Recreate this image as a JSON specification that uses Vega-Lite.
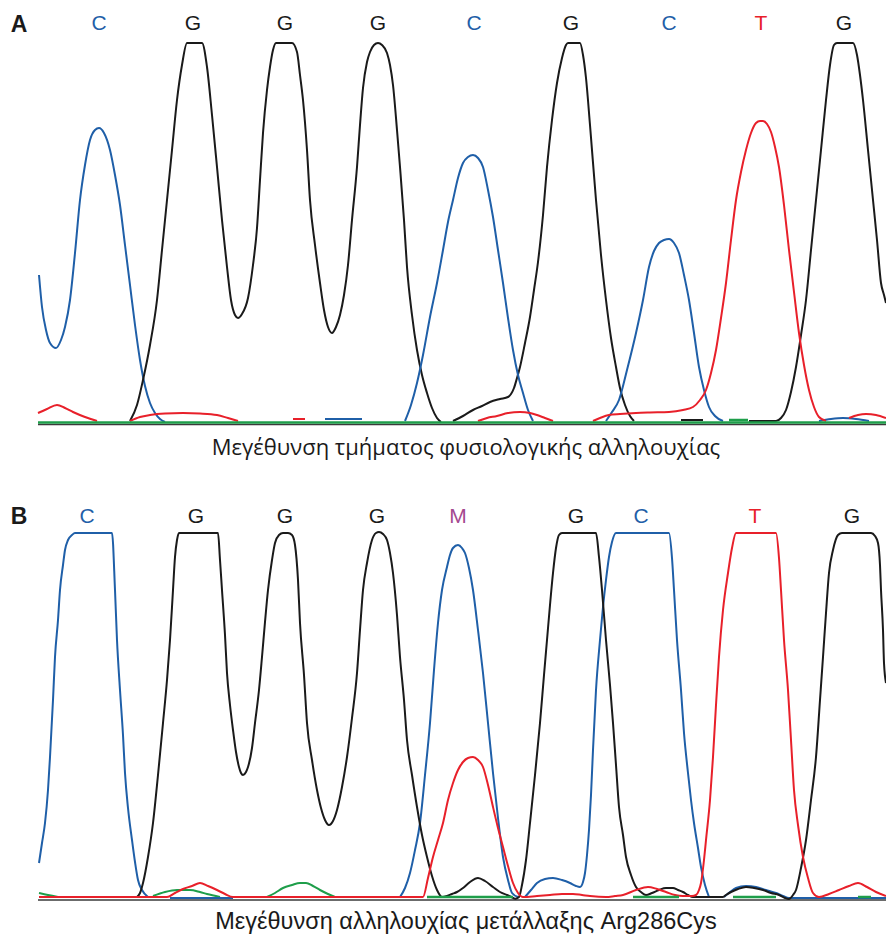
{
"$schema": "https://vega.github.io/schema/vega-lite/v6.json",
"padding": 0,
"spacing": 0,
"background": "white",
"config": {"view": {"stroke": null}, "concat": {"spacing": 0}},
"datasets": {
"baseA": [{"s":"n","x":38,"v":-1.5},{"s":"n","x":886,"v":-1.5}],
"topA": [{"s":"g","x":38,"v":0.5},{"s":"g","x":886,"v":0.5},{"s":"gd","x":729,"v":3},{"s":"gd","x":748,"v":3}],
"traceA": [
{"s":"a1","b":"C","x":39,"v":148},{"s":"a1","b":"C","x":42,"v":116},{"s":"a1","b":"C","x":46,"v":93},{"s":"a1","b":"C","x":50,"v":80},{"s":"a1","b":"C","x":56,"v":75},{"s":"a1","b":"C","x":61,"v":83},{"s":"a1","b":"C","x":65,"v":96},{"s":"a1","b":"C","x":70,"v":123},{"s":"a1","b":"C","x":75,"v":170},{"s":"a1","b":"C","x":80,"v":223},{"s":"a1","b":"C","x":85,"v":258},{"s":"a1","b":"C","x":90,"v":283},{"s":"a1","b":"C","x":95,"v":293},{"s":"a1","b":"C","x":99,"v":295},{"s":"a1","b":"C","x":104,"v":290},{"s":"a1","b":"C","x":110,"v":273},{"s":"a1","b":"C","x":115,"v":248},{"s":"a1","b":"C","x":120,"v":218},{"s":"a1","b":"C","x":125,"v":178},{"s":"a1","b":"C","x":130,"v":138},{"s":"a1","b":"C","x":135,"v":98},{"s":"a1","b":"C","x":140,"v":63},{"s":"a1","b":"C","x":145,"v":37},{"s":"a1","b":"C","x":150,"v":20},{"s":"a1","b":"C","x":155,"v":10},{"s":"a1","b":"C","x":160,"v":4},{"s":"a1","b":"C","x":165,"v":1},
{"s":"ga","b":"G","x":130,"v":2},{"s":"ga","b":"G","x":137,"v":18},{"s":"ga","b":"G","x":143,"v":43},{"s":"ga","b":"G","x":150,"v":78},{"s":"ga","b":"G","x":157,"v":123},{"s":"ga","b":"G","x":162,"v":173},{"s":"ga","b":"G","x":167,"v":223},{"s":"ga","b":"G","x":172,"v":273},{"s":"ga","b":"G","x":177,"v":323},{"s":"ga","b":"G","x":182,"v":358},{"s":"ga","b":"G","x":187,"v":380},{"s":"ga","b":"G","x":202,"v":380},{"s":"ga","b":"G","x":207,"v":356},{"s":"ga","b":"G","x":212,"v":308},{"s":"ga","b":"G","x":217,"v":256},{"s":"ga","b":"G","x":222,"v":203},{"s":"ga","b":"G","x":227,"v":156},{"s":"ga","b":"G","x":231,"v":123},{"s":"ga","b":"G","x":235,"v":108},{"s":"ga","b":"G","x":238,"v":105},{"s":"ga","b":"G","x":242,"v":109},{"s":"ga","b":"G","x":248,"v":125},{"s":"ga","b":"G","x":253,"v":158},{"s":"ga","b":"G","x":257,"v":195},{"s":"ga","b":"G","x":260,"v":243},{"s":"ga","b":"G","x":263,"v":290},{"s":"ga","b":"G","x":267,"v":333},{"s":"ga","b":"G","x":270,"v":356},{"s":"ga","b":"G","x":273,"v":373},{"s":"ga","b":"G","x":276,"v":380},{"s":"ga","b":"G","x":292,"v":380},{"s":"ga","b":"G","x":297,"v":371},{"s":"ga","b":"G","x":300,"v":348},{"s":"ga","b":"G","x":303,"v":323},{"s":"ga","b":"G","x":307,"v":273},{"s":"ga","b":"G","x":310,"v":223},{"s":"ga","b":"G","x":315,"v":178},{"s":"ga","b":"G","x":320,"v":140},{"s":"ga","b":"G","x":324,"v":113},{"s":"ga","b":"G","x":328,"v":96},{"s":"ga","b":"G","x":332,"v":90},{"s":"ga","b":"G","x":336,"v":96},{"s":"ga","b":"G","x":340,"v":108},{"s":"ga","b":"G","x":344,"v":128},{"s":"ga","b":"G","x":348,"v":158},{"s":"ga","b":"G","x":352,"v":203},{"s":"ga","b":"G","x":357,"v":256},{"s":"ga","b":"G","x":360,"v":298},{"s":"ga","b":"G","x":363,"v":335},{"s":"ga","b":"G","x":367,"v":361},{"s":"ga","b":"G","x":370,"v":371},{"s":"ga","b":"G","x":374,"v":378},{"s":"ga","b":"G","x":378,"v":380},{"s":"ga","b":"G","x":382,"v":378},{"s":"ga","b":"G","x":387,"v":370},{"s":"ga","b":"G","x":390,"v":358},{"s":"ga","b":"G","x":393,"v":338},{"s":"ga","b":"G","x":397,"v":293},{"s":"ga","b":"G","x":400,"v":256},{"s":"ga","b":"G","x":404,"v":203},{"s":"ga","b":"G","x":407,"v":156},{"s":"ga","b":"G","x":412,"v":108},{"s":"ga","b":"G","x":417,"v":73},{"s":"ga","b":"G","x":422,"v":48},{"s":"ga","b":"G","x":427,"v":30},{"s":"ga","b":"G","x":432,"v":15},{"s":"ga","b":"G","x":437,"v":5},{"s":"ga","b":"G","x":441,"v":1},
{"s":"gb","b":"G","x":453,"v":2},{"s":"gb","b":"G","x":463,"v":7},{"s":"gb","b":"G","x":473,"v":13},{"s":"gb","b":"G","x":482,"v":17},{"s":"gb","b":"G","x":490,"v":21},{"s":"gb","b":"G","x":500,"v":24},{"s":"gb","b":"G","x":508,"v":26},{"s":"gb","b":"G","x":511,"v":29},{"s":"gb","b":"G","x":514,"v":35},{"s":"gb","b":"G","x":517,"v":45},{"s":"gb","b":"G","x":520,"v":56},{"s":"gb","b":"G","x":525,"v":80},{"s":"gb","b":"G","x":530,"v":106},{"s":"gb","b":"G","x":534,"v":133},{"s":"gb","b":"G","x":538,"v":161},{"s":"gb","b":"G","x":543,"v":208},{"s":"gb","b":"G","x":547,"v":256},{"s":"gb","b":"G","x":552,"v":303},{"s":"gb","b":"G","x":557,"v":340},{"s":"gb","b":"G","x":562,"v":365},{"s":"gb","b":"G","x":566,"v":378},{"s":"gb","b":"G","x":568,"v":380},{"s":"gb","b":"G","x":580,"v":380},{"s":"gb","b":"G","x":583,"v":368},{"s":"gb","b":"G","x":586,"v":345},{"s":"gb","b":"G","x":590,"v":298},{"s":"gb","b":"G","x":596,"v":223},{"s":"gb","b":"G","x":601,"v":168},{"s":"gb","b":"G","x":606,"v":123},{"s":"gb","b":"G","x":611,"v":85},{"s":"gb","b":"G","x":616,"v":56},{"s":"gb","b":"G","x":620,"v":35},{"s":"gb","b":"G","x":625,"v":18},{"s":"gb","b":"G","x":630,"v":7},{"s":"gb","b":"G","x":634,"v":2},
{"s":"gc","b":"G","x":681,"v":3},{"s":"gc","b":"G","x":703,"v":3},
{"s":"gd","b":"G","x":749,"v":2},{"s":"gd","b":"G","x":776,"v":2},{"s":"gd","b":"G","x":781,"v":5},{"s":"gd","b":"G","x":786,"v":13},{"s":"gd","b":"G","x":791,"v":31},{"s":"gd","b":"G","x":796,"v":56},{"s":"gd","b":"G","x":801,"v":88},{"s":"gd","b":"G","x":806,"v":123},{"s":"gd","b":"G","x":811,"v":173},{"s":"gd","b":"G","x":816,"v":223},{"s":"gd","b":"G","x":821,"v":273},{"s":"gd","b":"G","x":826,"v":323},{"s":"gd","b":"G","x":830,"v":358},{"s":"gd","b":"G","x":834,"v":378},{"s":"gd","b":"G","x":837,"v":380},{"s":"gd","b":"G","x":853,"v":380},{"s":"gd","b":"G","x":857,"v":368},{"s":"gd","b":"G","x":860,"v":348},{"s":"gd","b":"G","x":863,"v":323},{"s":"gd","b":"G","x":868,"v":273},{"s":"gd","b":"G","x":873,"v":223},{"s":"gd","b":"G","x":877,"v":183},{"s":"gd","b":"G","x":881,"v":140},{"s":"gd","b":"G","x":884,"v":128},{"s":"gd","b":"G","x":886,"v":120},
{"s":"cb","b":"C","x":405,"v":2},{"s":"cb","b":"C","x":411,"v":18},{"s":"cb","b":"C","x":417,"v":40},{"s":"cb","b":"C","x":423,"v":68},{"s":"cb","b":"C","x":430,"v":106},{"s":"cb","b":"C","x":437,"v":140},{"s":"cb","b":"C","x":443,"v":173},{"s":"cb","b":"C","x":448,"v":201},{"s":"cb","b":"C","x":453,"v":223},{"s":"cb","b":"C","x":458,"v":245},{"s":"cb","b":"C","x":463,"v":260},{"s":"cb","b":"C","x":468,"v":266},{"s":"cb","b":"C","x":473,"v":268},{"s":"cb","b":"C","x":478,"v":265},{"s":"cb","b":"C","x":483,"v":256},{"s":"cb","b":"C","x":488,"v":233},{"s":"cb","b":"C","x":493,"v":206},{"s":"cb","b":"C","x":498,"v":173},{"s":"cb","b":"C","x":503,"v":140},{"s":"cb","b":"C","x":508,"v":105},{"s":"cb","b":"C","x":513,"v":73},{"s":"cb","b":"C","x":518,"v":48},{"s":"cb","b":"C","x":523,"v":30},{"s":"cb","b":"C","x":528,"v":13},{"s":"cb","b":"C","x":533,"v":2},
{"s":"cc","b":"C","x":325,"v":4},{"s":"cc","b":"C","x":362,"v":4},
{"s":"cd","b":"C","x":606,"v":2},{"s":"cd","b":"C","x":612,"v":11},{"s":"cd","b":"C","x":619,"v":23},{"s":"cd","b":"C","x":627,"v":53},{"s":"cd","b":"C","x":636,"v":90},{"s":"cd","b":"C","x":643,"v":123},{"s":"cd","b":"C","x":649,"v":156},{"s":"cd","b":"C","x":654,"v":172},{"s":"cd","b":"C","x":659,"v":180},{"s":"cd","b":"C","x":664,"v":183},{"s":"cd","b":"C","x":669,"v":184},{"s":"cd","b":"C","x":674,"v":180},{"s":"cd","b":"C","x":679,"v":170},{"s":"cd","b":"C","x":684,"v":148},{"s":"cd","b":"C","x":689,"v":123},{"s":"cd","b":"C","x":694,"v":90},{"s":"cd","b":"C","x":699,"v":56},{"s":"cd","b":"C","x":704,"v":33},{"s":"cd","b":"C","x":709,"v":16},{"s":"cd","b":"C","x":715,"v":7},{"s":"cd","b":"C","x":723,"v":2},
{"s":"ce","b":"C","x":819,"v":2},{"s":"ce","b":"C","x":831,"v":4},{"s":"ce","b":"C","x":843,"v":5},{"s":"ce","b":"C","x":856,"v":4},{"s":"ce","b":"C","x":869,"v":2},
{"s":"ra","b":"T","x":38,"v":10},{"s":"ra","b":"T","x":47,"v":14},{"s":"ra","b":"T","x":57,"v":18},{"s":"ra","b":"T","x":65,"v":15},{"s":"ra","b":"T","x":73,"v":11},{"s":"ra","b":"T","x":85,"v":6},{"s":"ra","b":"T","x":97,"v":2},
{"s":"rb","b":"T","x":130,"v":2},{"s":"rb","b":"T","x":140,"v":6},{"s":"rb","b":"T","x":150,"v":8},{"s":"rb","b":"T","x":165,"v":9.5},{"s":"rb","b":"T","x":183,"v":10},{"s":"rb","b":"T","x":200,"v":9.5},{"s":"rb","b":"T","x":217,"v":8},{"s":"rb","b":"T","x":228,"v":5},{"s":"rb","b":"T","x":238,"v":2},
{"s":"rc","b":"T","x":293,"v":4},{"s":"rc","b":"T","x":305,"v":4},
{"s":"rd","b":"T","x":478,"v":2},{"s":"rd","b":"T","x":487,"v":5},{"s":"rd","b":"T","x":497,"v":7},{"s":"rd","b":"T","x":508,"v":10},{"s":"rd","b":"T","x":520,"v":11},{"s":"rd","b":"T","x":530,"v":10},{"s":"rd","b":"T","x":537,"v":8},{"s":"rd","b":"T","x":545,"v":5},{"s":"rd","b":"T","x":553,"v":2},
{"s":"re","b":"T","x":593,"v":2},{"s":"re","b":"T","x":600,"v":5},{"s":"re","b":"T","x":609,"v":8},{"s":"re","b":"T","x":620,"v":9},{"s":"re","b":"T","x":636,"v":10},{"s":"re","b":"T","x":650,"v":10.5},{"s":"re","b":"T","x":669,"v":11},{"s":"re","b":"T","x":683,"v":13},{"s":"re","b":"T","x":693,"v":16},{"s":"re","b":"T","x":700,"v":23},{"s":"re","b":"T","x":706,"v":33},{"s":"re","b":"T","x":711,"v":50},{"s":"re","b":"T","x":716,"v":73},{"s":"re","b":"T","x":721,"v":105},{"s":"re","b":"T","x":726,"v":140},{"s":"re","b":"T","x":731,"v":183},{"s":"re","b":"T","x":736,"v":223},{"s":"re","b":"T","x":741,"v":251},{"s":"re","b":"T","x":746,"v":273},{"s":"re","b":"T","x":751,"v":290},{"s":"re","b":"T","x":756,"v":300},{"s":"re","b":"T","x":760,"v":302},{"s":"re","b":"T","x":763,"v":302},{"s":"re","b":"T","x":767,"v":299},{"s":"re","b":"T","x":771,"v":291},{"s":"re","b":"T","x":775,"v":276},{"s":"re","b":"T","x":779,"v":256},{"s":"re","b":"T","x":784,"v":218},{"s":"re","b":"T","x":789,"v":173},{"s":"re","b":"T","x":794,"v":131},{"s":"re","b":"T","x":799,"v":90},{"s":"re","b":"T","x":804,"v":58},{"s":"re","b":"T","x":809,"v":33},{"s":"re","b":"T","x":814,"v":16},{"s":"re","b":"T","x":819,"v":6},{"s":"re","b":"T","x":826,"v":2},
{"s":"rf","b":"T","x":849,"v":5},{"s":"rf","b":"T","x":858,"v":8},{"s":"rf","b":"T","x":866,"v":9},{"s":"rf","b":"T","x":876,"v":8},{"s":"rf","b":"T","x":886,"v":5}
],
"labA": [{"b":"C","x":99,"v":399},{"b":"G","x":193,"v":399},{"b":"G","x":285,"v":399},{"b":"G","x":378,"v":399},{"b":"C","x":474,"v":399},{"b":"G","x":571,"v":399},{"b":"C","x":669,"v":399},{"b":"T","x":761,"v":399},{"b":"G","x":844,"v":399}],
"letA": [{"t":"A","x":19,"v":398}],
"capA": [{"t":"Μεγέθυνση τμήματος φυσιολογικής αλληλουχίας","x":466,"v":-25}],
"baseB": [{"s":"n","x":38,"v":-2},{"s":"n","x":886,"v":-2}],
"topB": [{"s":"d1","x":427,"v":1},{"s":"d1","x":513,"v":1},{"s":"d2","x":633,"v":1},{"s":"d2","x":679,"v":1},{"s":"d3","x":733,"v":1},{"s":"d3","x":776,"v":1},{"s":"d4","x":858,"v":1},{"s":"d4","x":871,"v":1}],
"traceB": [
{"s":"g1","b":"A","x":39,"v":5},{"s":"g1","b":"A","x":48,"v":3},{"s":"g1","b":"A","x":58,"v":1},
{"s":"g2","b":"A","x":153,"v":2},{"s":"g2","b":"A","x":165,"v":6},{"s":"g2","b":"A","x":177,"v":8},{"s":"g2","b":"A","x":190,"v":8},{"s":"g2","b":"A","x":200,"v":6},{"s":"g2","b":"A","x":207,"v":4},{"s":"g2","b":"A","x":220,"v":1},
{"s":"g3","b":"A","x":267,"v":1},{"s":"g3","b":"A","x":275,"v":5},{"s":"g3","b":"A","x":283,"v":10},{"s":"g3","b":"A","x":292,"v":13},{"s":"g3","b":"A","x":300,"v":15},{"s":"g3","b":"A","x":306,"v":15},{"s":"g3","b":"A","x":313,"v":12},{"s":"g3","b":"A","x":320,"v":8},{"s":"g3","b":"A","x":328,"v":4},{"s":"g3","b":"A","x":335,"v":1},
{"s":"b1","b":"C","x":39,"v":35},{"s":"b1","b":"C","x":42,"v":55},{"s":"b1","b":"C","x":45,"v":75},{"s":"b1","b":"C","x":48,"v":108},{"s":"b1","b":"C","x":50,"v":141},{"s":"b1","b":"C","x":53,"v":198},{"s":"b1","b":"C","x":55,"v":241},{"s":"b1","b":"C","x":58,"v":278},{"s":"b1","b":"C","x":60,"v":308},{"s":"b1","b":"C","x":63,"v":333},{"s":"b1","b":"C","x":65,"v":348},{"s":"b1","b":"C","x":68,"v":358},{"s":"b1","b":"C","x":72,"v":363},{"s":"b1","b":"C","x":75,"v":365},{"s":"b1","b":"C","x":112,"v":365},{"s":"b1","b":"C","x":115,"v":308},{"s":"b1","b":"C","x":117,"v":258},{"s":"b1","b":"C","x":120,"v":208},{"s":"b1","b":"C","x":123,"v":163},{"s":"b1","b":"C","x":125,"v":125},{"s":"b1","b":"C","x":128,"v":90},{"s":"b1","b":"C","x":132,"v":58},{"s":"b1","b":"C","x":135,"v":36},{"s":"b1","b":"C","x":138,"v":18},{"s":"b1","b":"C","x":142,"v":8},{"s":"b1","b":"C","x":148,"v":1},
{"s":"b2","b":"C","x":170,"v":0},{"s":"b2","b":"C","x":233,"v":0},
{"s":"bm","b":"C","x":400,"v":1},{"s":"bm","b":"C","x":405,"v":10},{"s":"bm","b":"C","x":410,"v":25},{"s":"bm","b":"C","x":415,"v":48},{"s":"bm","b":"C","x":420,"v":75},{"s":"bm","b":"C","x":425,"v":123},{"s":"bm","b":"C","x":430,"v":175},{"s":"bm","b":"C","x":434,"v":228},{"s":"bm","b":"C","x":438,"v":275},{"s":"bm","b":"C","x":442,"v":308},{"s":"bm","b":"C","x":447,"v":331},{"s":"bm","b":"C","x":450,"v":343},{"s":"bm","b":"C","x":453,"v":350},{"s":"bm","b":"C","x":458,"v":353},{"s":"bm","b":"C","x":462,"v":350},{"s":"bm","b":"C","x":465,"v":345},{"s":"bm","b":"C","x":469,"v":330},{"s":"bm","b":"C","x":473,"v":308},{"s":"bm","b":"C","x":478,"v":268},{"s":"bm","b":"C","x":483,"v":225},{"s":"bm","b":"C","x":488,"v":175},{"s":"bm","b":"C","x":493,"v":125},{"s":"bm","b":"C","x":498,"v":80},{"s":"bm","b":"C","x":503,"v":41},{"s":"bm","b":"C","x":508,"v":18},{"s":"bm","b":"C","x":512,"v":5},{"s":"bm","b":"C","x":518,"v":1},
{"s":"b3","b":"C","x":525,"v":1},{"s":"b3","b":"C","x":531,"v":8},{"s":"b3","b":"C","x":537,"v":15},{"s":"b3","b":"C","x":545,"v":19},{"s":"b3","b":"C","x":553,"v":20},{"s":"b3","b":"C","x":562,"v":18},{"s":"b3","b":"C","x":570,"v":15},{"s":"b3","b":"C","x":576,"v":12},{"s":"b3","b":"C","x":580,"v":11},{"s":"b3","b":"C","x":583,"v":16},{"s":"b3","b":"C","x":585,"v":25},{"s":"b3","b":"C","x":587,"v":43},{"s":"b3","b":"C","x":589,"v":68},{"s":"b3","b":"C","x":591,"v":103},{"s":"b3","b":"C","x":593,"v":148},{"s":"b3","b":"C","x":596,"v":208},{"s":"b3","b":"C","x":600,"v":258},{"s":"b3","b":"C","x":603,"v":291},{"s":"b3","b":"C","x":606,"v":318},{"s":"b3","b":"C","x":609,"v":341},{"s":"b3","b":"C","x":612,"v":356},{"s":"b3","b":"C","x":616,"v":365},{"s":"b3","b":"C","x":669,"v":365},{"s":"b3","b":"C","x":672,"v":340},{"s":"b3","b":"C","x":674,"v":308},{"s":"b3","b":"C","x":677,"v":258},{"s":"b3","b":"C","x":681,"v":208},{"s":"b3","b":"C","x":684,"v":165},{"s":"b3","b":"C","x":688,"v":125},{"s":"b3","b":"C","x":691,"v":98},{"s":"b3","b":"C","x":694,"v":75},{"s":"b3","b":"C","x":698,"v":50},{"s":"b3","b":"C","x":701,"v":31},{"s":"b3","b":"C","x":705,"v":13},{"s":"b3","b":"C","x":709,"v":1},
{"s":"b4","b":"C","x":724,"v":1},{"s":"b4","b":"C","x":730,"v":6},{"s":"b4","b":"C","x":736,"v":10},{"s":"b4","b":"C","x":746,"v":12},{"s":"b4","b":"C","x":756,"v":11},{"s":"b4","b":"C","x":766,"v":8},{"s":"b4","b":"C","x":776,"v":5},{"s":"b4","b":"C","x":783,"v":2},{"s":"b4","b":"C","x":789,"v":0},{"s":"b4","b":"C","x":886,"v":0},
{"s":"k1","b":"G","x":137,"v":1},{"s":"k1","b":"G","x":140,"v":5},{"s":"k1","b":"G","x":143,"v":15},{"s":"k1","b":"G","x":148,"v":41},{"s":"k1","b":"G","x":153,"v":75},{"s":"k1","b":"G","x":158,"v":123},{"s":"k1","b":"G","x":163,"v":175},{"s":"k1","b":"G","x":167,"v":218},{"s":"k1","b":"G","x":170,"v":258},{"s":"k1","b":"G","x":173,"v":308},{"s":"k1","b":"G","x":175,"v":341},{"s":"k1","b":"G","x":177,"v":358},{"s":"k1","b":"G","x":179,"v":365},{"s":"k1","b":"G","x":218,"v":365},{"s":"k1","b":"G","x":220,"v":338},{"s":"k1","b":"G","x":222,"v":308},{"s":"k1","b":"G","x":225,"v":263},{"s":"k1","b":"G","x":227,"v":225},{"s":"k1","b":"G","x":230,"v":193},{"s":"k1","b":"G","x":233,"v":168},{"s":"k1","b":"G","x":236,"v":146},{"s":"k1","b":"G","x":239,"v":131},{"s":"k1","b":"G","x":241,"v":125},{"s":"k1","b":"G","x":243,"v":123},{"s":"k1","b":"G","x":246,"v":126},{"s":"k1","b":"G","x":248,"v":131},{"s":"k1","b":"G","x":252,"v":150},{"s":"k1","b":"G","x":255,"v":175},{"s":"k1","b":"G","x":259,"v":208},{"s":"k1","b":"G","x":262,"v":241},{"s":"k1","b":"G","x":265,"v":276},{"s":"k1","b":"G","x":268,"v":308},{"s":"k1","b":"G","x":272,"v":338},{"s":"k1","b":"G","x":275,"v":355},{"s":"k1","b":"G","x":279,"v":363},{"s":"k1","b":"G","x":283,"v":365},{"s":"k1","b":"G","x":288,"v":365},{"s":"k1","b":"G","x":292,"v":363},{"s":"k1","b":"G","x":295,"v":353},{"s":"k1","b":"G","x":298,"v":318},{"s":"k1","b":"G","x":300,"v":275},{"s":"k1","b":"G","x":304,"v":223},{"s":"k1","b":"G","x":307,"v":175},{"s":"k1","b":"G","x":312,"v":138},{"s":"k1","b":"G","x":317,"v":108},{"s":"k1","b":"G","x":321,"v":90},{"s":"k1","b":"G","x":325,"v":78},{"s":"k1","b":"G","x":329,"v":73},{"s":"k1","b":"G","x":333,"v":77},{"s":"k1","b":"G","x":337,"v":88},{"s":"k1","b":"G","x":342,"v":111},{"s":"k1","b":"G","x":347,"v":141},{"s":"k1","b":"G","x":352,"v":180},{"s":"k1","b":"G","x":357,"v":225},{"s":"k1","b":"G","x":360,"v":268},{"s":"k1","b":"G","x":363,"v":308},{"s":"k1","b":"G","x":367,"v":335},{"s":"k1","b":"G","x":372,"v":358},{"s":"k1","b":"G","x":376,"v":365},{"s":"k1","b":"G","x":379,"v":366},{"s":"k1","b":"G","x":383,"v":364},{"s":"k1","b":"G","x":387,"v":358},{"s":"k1","b":"G","x":390,"v":345},{"s":"k1","b":"G","x":393,"v":325},{"s":"k1","b":"G","x":397,"v":283},{"s":"k1","b":"G","x":400,"v":241},{"s":"k1","b":"G","x":404,"v":198},{"s":"k1","b":"G","x":407,"v":158},{"s":"k1","b":"G","x":412,"v":123},{"s":"k1","b":"G","x":417,"v":91},{"s":"k1","b":"G","x":422,"v":63},{"s":"k1","b":"G","x":427,"v":41},{"s":"k1","b":"G","x":432,"v":22},{"s":"k1","b":"G","x":437,"v":8},{"s":"k1","b":"G","x":442,"v":1},{"s":"k1","b":"G","x":447,"v":2},{"s":"k1","b":"G","x":452,"v":4},{"s":"k1","b":"G","x":457,"v":6},{"s":"k1","b":"G","x":463,"v":10},{"s":"k1","b":"G","x":470,"v":16},{"s":"k1","b":"G","x":478,"v":20},{"s":"k1","b":"G","x":485,"v":17},{"s":"k1","b":"G","x":493,"v":11},{"s":"k1","b":"G","x":500,"v":6},{"s":"k1","b":"G","x":507,"v":3},{"s":"k1","b":"G","x":515,"v":-1},
{"s":"k2","b":"G","x":515,"v":-1},{"s":"k2","b":"G","x":519,"v":1},{"s":"k2","b":"G","x":522,"v":13},{"s":"k2","b":"G","x":526,"v":38},{"s":"k2","b":"G","x":530,"v":75},{"s":"k2","b":"G","x":535,"v":123},{"s":"k2","b":"G","x":540,"v":175},{"s":"k2","b":"G","x":544,"v":223},{"s":"k2","b":"G","x":547,"v":258},{"s":"k2","b":"G","x":550,"v":293},{"s":"k2","b":"G","x":553,"v":325},{"s":"k2","b":"G","x":556,"v":350},{"s":"k2","b":"G","x":559,"v":363},{"s":"k2","b":"G","x":562,"v":365},{"s":"k2","b":"G","x":596,"v":365},{"s":"k2","b":"G","x":599,"v":341},{"s":"k2","b":"G","x":602,"v":308},{"s":"k2","b":"G","x":606,"v":258},{"s":"k2","b":"G","x":610,"v":213},{"s":"k2","b":"G","x":613,"v":175},{"s":"k2","b":"G","x":616,"v":133},{"s":"k2","b":"G","x":619,"v":91},{"s":"k2","b":"G","x":623,"v":63},{"s":"k2","b":"G","x":626,"v":41},{"s":"k2","b":"G","x":631,"v":23},{"s":"k2","b":"G","x":636,"v":11},{"s":"k2","b":"G","x":641,"v":6},{"s":"k2","b":"G","x":646,"v":3},{"s":"k2","b":"G","x":652,"v":5},{"s":"k2","b":"G","x":659,"v":8},{"s":"k2","b":"G","x":666,"v":10},{"s":"k2","b":"G","x":673,"v":10},{"s":"k2","b":"G","x":678,"v":8},{"s":"k2","b":"G","x":683,"v":6},{"s":"k2","b":"G","x":688,"v":3},{"s":"k2","b":"G","x":693,"v":1},{"s":"k2","b":"G","x":723,"v":1},{"s":"k2","b":"G","x":726,"v":3},{"s":"k2","b":"G","x":731,"v":6},{"s":"k2","b":"G","x":738,"v":9},{"s":"k2","b":"G","x":746,"v":11},{"s":"k2","b":"G","x":754,"v":10},{"s":"k2","b":"G","x":763,"v":8},{"s":"k2","b":"G","x":771,"v":5},{"s":"k2","b":"G","x":779,"v":3},{"s":"k2","b":"G","x":785,"v":0},{"s":"k2","b":"G","x":789,"v":-1},{"s":"k2","b":"G","x":793,"v":3},{"s":"k2","b":"G","x":796,"v":8},{"s":"k2","b":"G","x":801,"v":30},{"s":"k2","b":"G","x":806,"v":58},{"s":"k2","b":"G","x":811,"v":98},{"s":"k2","b":"G","x":816,"v":141},{"s":"k2","b":"G","x":820,"v":198},{"s":"k2","b":"G","x":823,"v":241},{"s":"k2","b":"G","x":826,"v":285},{"s":"k2","b":"G","x":829,"v":325},{"s":"k2","b":"G","x":833,"v":348},{"s":"k2","b":"G","x":838,"v":363},{"s":"k2","b":"G","x":842,"v":365},{"s":"k2","b":"G","x":871,"v":365},{"s":"k2","b":"G","x":875,"v":362},{"s":"k2","b":"G","x":878,"v":355},{"s":"k2","b":"G","x":880,"v":333},{"s":"k2","b":"G","x":881,"v":308},{"s":"k2","b":"G","x":883,"v":268},{"s":"k2","b":"G","x":884,"v":235},{"s":"k2","b":"G","x":886,"v":215},
{"s":"r1","b":"T","x":39,"v":1},{"s":"r1","b":"T","x":167,"v":1},{"s":"r1","b":"T","x":175,"v":5},{"s":"r1","b":"T","x":183,"v":9},{"s":"r1","b":"T","x":192,"v":12},{"s":"r1","b":"T","x":200,"v":15},{"s":"r1","b":"T","x":208,"v":12},{"s":"r1","b":"T","x":217,"v":8},{"s":"r1","b":"T","x":225,"v":4},{"s":"r1","b":"T","x":233,"v":1},{"s":"r1","b":"T","x":423,"v":1},{"s":"r1","b":"T","x":428,"v":20},{"s":"r1","b":"T","x":433,"v":41},{"s":"r1","b":"T","x":438,"v":58},{"s":"r1","b":"T","x":443,"v":75},{"s":"r1","b":"T","x":448,"v":98},{"s":"r1","b":"T","x":453,"v":115},{"s":"r1","b":"T","x":458,"v":128},{"s":"r1","b":"T","x":463,"v":136},{"s":"r1","b":"T","x":468,"v":140},{"s":"r1","b":"T","x":473,"v":141},{"s":"r1","b":"T","x":478,"v":138},{"s":"r1","b":"T","x":483,"v":131},{"s":"r1","b":"T","x":488,"v":113},{"s":"r1","b":"T","x":493,"v":91},{"s":"r1","b":"T","x":498,"v":70},{"s":"r1","b":"T","x":503,"v":51},{"s":"r1","b":"T","x":508,"v":32},{"s":"r1","b":"T","x":513,"v":15},{"s":"r1","b":"T","x":518,"v":5},{"s":"r1","b":"T","x":523,"v":1},{"s":"r1","b":"T","x":537,"v":2},{"s":"r1","b":"T","x":550,"v":3},{"s":"r1","b":"T","x":562,"v":4},{"s":"r1","b":"T","x":573,"v":4},{"s":"r1","b":"T","x":582,"v":3},{"s":"r1","b":"T","x":590,"v":2},{"s":"r1","b":"T","x":606,"v":1},{"s":"r1","b":"T","x":615,"v":2},{"s":"r1","b":"T","x":623,"v":3},{"s":"r1","b":"T","x":636,"v":8},{"s":"r1","b":"T","x":648,"v":11},{"s":"r1","b":"T","x":657,"v":9},{"s":"r1","b":"T","x":666,"v":6},{"s":"r1","b":"T","x":675,"v":3},{"s":"r1","b":"T","x":683,"v":2},{"s":"r1","b":"T","x":692,"v":2},{"s":"r1","b":"T","x":696,"v":3},{"s":"r1","b":"T","x":699,"v":8},{"s":"r1","b":"T","x":701,"v":15},{"s":"r1","b":"T","x":704,"v":38},{"s":"r1","b":"T","x":706,"v":58},{"s":"r1","b":"T","x":710,"v":98},{"s":"r1","b":"T","x":713,"v":141},{"s":"r1","b":"T","x":716,"v":193},{"s":"r1","b":"T","x":719,"v":241},{"s":"r1","b":"T","x":723,"v":288},{"s":"r1","b":"T","x":728,"v":325},{"s":"r1","b":"T","x":732,"v":350},{"s":"r1","b":"T","x":736,"v":365},{"s":"r1","b":"T","x":776,"v":365},{"s":"r1","b":"T","x":779,"v":340},{"s":"r1","b":"T","x":781,"v":308},{"s":"r1","b":"T","x":784,"v":258},{"s":"r1","b":"T","x":788,"v":208},{"s":"r1","b":"T","x":791,"v":158},{"s":"r1","b":"T","x":794,"v":108},{"s":"r1","b":"T","x":798,"v":73},{"s":"r1","b":"T","x":803,"v":41},{"s":"r1","b":"T","x":808,"v":20},{"s":"r1","b":"T","x":813,"v":5},{"s":"r1","b":"T","x":819,"v":1},{"s":"r1","b":"T","x":829,"v":4},{"s":"r1","b":"T","x":839,"v":8},{"s":"r1","b":"T","x":849,"v":12},{"s":"r1","b":"T","x":858,"v":15},{"s":"r1","b":"T","x":867,"v":11},{"s":"r1","b":"T","x":876,"v":6},{"s":"r1","b":"T","x":886,"v":2}
],
"labB": [{"b":"C","x":87,"v":381},{"b":"G","x":196,"v":381},{"b":"G","x":285,"v":381},{"b":"G","x":377,"v":381},{"b":"M","x":458,"v":381},{"b":"G","x":576,"v":381},{"b":"C","x":641,"v":381},{"b":"T","x":755,"v":381},{"b":"G","x":852,"v":381}],
"letB": [{"t":"B","x":19,"v":381}],
"capB": [{"t":"Μεγέθυνση αλληλουχίας μετάλλαξης Arg286Cys","x":466,"v":-24}]
},
"vconcat": [
{
"width": 886, "height": 468,
"encoding": {
"x": {"field": "x", "type": "quantitative", "scale": {"domain": [0, 886], "nice": false, "zero": false}, "axis": null},
"y": {"field": "v", "type": "quantitative", "scale": {"domain": [-45, 423], "nice": false, "zero": false}, "axis": null}
},
"layer": [
{"data": {"name": "baseA"}, "mark": {"type": "line", "color": "#3a3a3a", "strokeWidth": 1.5}, "encoding": {"detail": {"field": "s"}}},
{"data": {"name": "traceA"}, "mark": {"type": "line", "interpolate": "monotone", "strokeWidth": 2}, "encoding": {"detail": {"field": "s"}, "color": {"field": "b", "type": "nominal", "scale": {"domain": ["A", "C", "G", "T", "M"], "range": ["#1e9e4a", "#1f5fa8", "#1a1a1a", "#e8202a", "#a4498f"]}, "legend": null}}},
{"data": {"name": "topA"}, "mark": {"type": "line", "color": "#1e9e4a", "strokeWidth": 2.5}, "encoding": {"detail": {"field": "s"}}},
{"data": {"name": "labA"}, "mark": {"type": "text", "font": "Liberation Sans", "fontSize": 21, "baseline": "middle", "align": "center"}, "encoding": {"text": {"field": "b"}, "color": {"field": "b", "type": "nominal", "scale": {"domain": ["A", "C", "G", "T", "M"], "range": ["#1e9e4a", "#1f5fa8", "#1a1a1a", "#e8202a", "#a4498f"]}, "legend": null}}},
{"data": {"name": "letA"}, "mark": {"type": "text", "font": "Liberation Sans", "fontSize": 23, "fontWeight": "bold", "baseline": "middle", "align": "center", "color": "#1a1a1a"}, "encoding": {"text": {"field": "t"}}},
{"data": {"name": "capA"}, "mark": {"type": "text", "font": "Open Sans", "fontSize": 22, "baseline": "middle", "align": "center", "color": "#1a1a1a"}, "encoding": {"text": {"field": "t"}}}
]
},
{
"width": 886, "height": 469,
"encoding": {
"x": {"field": "x", "type": "quantitative", "scale": {"domain": [0, 886], "nice": false, "zero": false}, "axis": null},
"y": {"field": "v", "type": "quantitative", "scale": {"domain": [-39, 430], "nice": false, "zero": false}, "axis": null}
},
"layer": [
{"data": {"name": "baseB"}, "mark": {"type": "line", "color": "#3a3a3a", "strokeWidth": 1.5}, "encoding": {"detail": {"field": "s"}}},
{"data": {"name": "traceB"}, "mark": {"type": "line", "interpolate": "monotone", "strokeWidth": 2}, "encoding": {"detail": {"field": "s"}, "color": {"field": "b", "type": "nominal", "scale": {"domain": ["A", "C", "G", "T", "M"], "range": ["#1e9e4a", "#1f5fa8", "#1a1a1a", "#e8202a", "#a4498f"]}, "legend": null}}},
{"data": {"name": "topB"}, "mark": {"type": "line", "color": "#1e9e4a", "strokeWidth": 2.5}, "encoding": {"detail": {"field": "s"}}},
{"data": {"name": "labB"}, "mark": {"type": "text", "font": "Liberation Sans", "fontSize": 21, "baseline": "middle", "align": "center"}, "encoding": {"text": {"field": "b"}, "color": {"field": "b", "type": "nominal", "scale": {"domain": ["A", "C", "G", "T", "M"], "range": ["#1e9e4a", "#1f5fa8", "#1a1a1a", "#e8202a", "#a4498f"]}, "legend": null}}},
{"data": {"name": "letB"}, "mark": {"type": "text", "font": "Liberation Sans", "fontSize": 23, "fontWeight": "bold", "baseline": "middle", "align": "center", "color": "#1a1a1a"}, "encoding": {"text": {"field": "t"}}},
{"data": {"name": "capB"}, "mark": {"type": "text", "font": "Liberation Sans", "fontSize": 23.5, "baseline": "middle", "align": "center", "color": "#1a1a1a"}, "encoding": {"text": {"field": "t"}}}
]
}
]
}
